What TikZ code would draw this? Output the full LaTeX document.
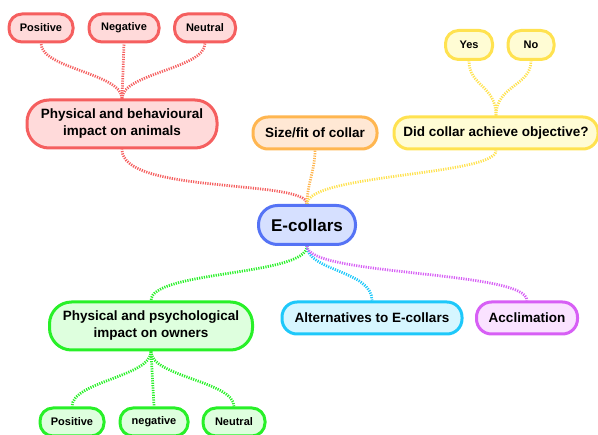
\documentclass[tikz,border=0pt]{standalone}
\usepackage{fontspec}
\setmainfont{Liberation Sans}
\usetikzlibrary{backgrounds}

\definecolor{redline}{RGB}{245,95,95}
\definecolor{redfill}{RGB}{255,218,218}
\definecolor{orangeline}{RGB}{255,182,80}
\definecolor{orangefill}{RGB}{255,232,212}
\definecolor{yellowline}{RGB}{255,226,80}
\definecolor{yellowfill}{RGB}{255,252,212}
\definecolor{blueline}{RGB}{85,115,245}
\definecolor{bluefill}{RGB}{214,224,255}
\definecolor{greenline}{RGB}{40,240,40}
\definecolor{greenfill}{RGB}{222,255,222}
\definecolor{cyanline}{RGB}{30,200,250}
\definecolor{cyanfill}{RGB}{214,246,255}
\definecolor{purpleline}{RGB}{215,95,245}
\definecolor{purplefill}{RGB}{250,226,255}

\tikzset{
	topic/.style={draw, line width=3pt, rounded corners=#1, inner sep=0pt, align=center, font=\bfseries},
	small/.style={topic=13pt, minimum height=28pt, font=\fontsize{11}{13}\selectfont\bfseries},
	medium/.style={topic=15pt, minimum height=32pt, font=\fontsize{13.5}{17}\selectfont\bfseries},
	twoline/.style={topic=22pt, minimum height=48pt, font=\fontsize{13.5}{17}\selectfont\bfseries},
	branch/.style={line width=2.75pt, dash pattern=on 1.2pt off 1.2pt}}
\tikzset{every picture/.style={line width=0.75pt}}

\begin{document}
\begin{tikzpicture}[x=1pt,y=1pt,yscale=-1,xscale=1]
	\useasboundingbox (0,0) rectangle (598,435);
	
	% Centre
	\node [topic=19pt, minimum width=97, minimum height=39, draw=blueline, fill=bluefill, font=\fontsize{17}{20}\selectfont\bfseries] (ecol) at (307,225) {E-collars};
	
	% Upper branches
	\node [twoline, minimum width=190, draw=redline, fill=redfill] (animals) at (122,124) {Physical and behavioural\\impact on animals};
	\node [small, minimum width=64, draw=redline, fill=redfill] (apos) at (41,28) {Positive};
	\node [small, minimum width=70, draw=redline, fill=redfill] (aneg) at (124,28) {Negative};
	\node [small, minimum width=61, draw=redline, fill=redfill] (aneu) at (205,28) {Neutral};
	\node [medium, minimum width=124, draw=orangeline, fill=orangefill] (size) at (315,133) {Size/fit of collar};
	\node [medium, minimum width=204, draw=yellowline, fill=yellowfill] (goal) at (496,133) {Did collar achieve objective?};
	\node [small, minimum width=47, minimum height=29, draw=yellowline, fill=yellowfill] (yes) at (469,45) {Yes};
	\node [small, minimum width=46, minimum height=29, draw=yellowline, fill=yellowfill] (no) at (531,45) {No};
	
	% Lower branches
	\node [twoline, minimum width=203, draw=greenline, fill=greenfill] (owners) at (151,326) {Physical and psychological\\impact on owners};
	\node [small, minimum width=64, draw=greenline, fill=greenfill] (opos) at (72,422) {Positive};
	\node [small, minimum width=68, draw=greenline, fill=greenfill] (oneg) at (154,422) {negative};
	\node [small, minimum width=62, draw=greenline, fill=greenfill] (oneu) at (234,422) {Neutral};
	\node [medium, minimum width=180, draw=cyanline, fill=cyanfill] (alt) at (372,318) {Alternatives to E-collars};
	\node [medium, minimum width=101, draw=purpleline, fill=purplefill] (accl) at (527,318) {Acclimation};
	
	% Connectors
	\begin{scope}[on background layer]
	\draw [branch, redline] (ecol.north) .. controls +(0,-25) and +(0,45) .. (animals.south);
	\draw [branch, orangeline] (ecol.north) .. controls +(0,-20) and +(0,20) .. (size.south);
	\draw [branch, yellowline] (ecol.north) .. controls +(0,-30) and +(0,25) .. (goal.south);
	\draw [branch, redline] (animals.north) .. controls +(0,-25) and +(0,25) .. (apos.south);
	\draw [branch, redline] (animals.north) -- (aneg.south);
	\draw [branch, redline] (animals.north) .. controls +(0,-25) and +(0,25) .. (aneu.south);
	\draw [branch, yellowline] (goal.north) .. controls +(0,-30) and +(0,25) .. (yes.south);
	\draw [branch, yellowline] (goal.north) .. controls +(0,-30) and +(0,25) .. (no.south);
	\draw [branch, greenline] (ecol.south) .. controls +(0,30) and +(0,-30) .. (owners.north);
	\draw [branch, cyanline] (ecol.south) .. controls +(0,25) and +(0,-30) .. (alt.north);
	\draw [branch, purpleline] (ecol.south) .. controls +(0,30) and +(0,-30) .. (accl.north);
	\draw [branch, greenline] (owners.south) .. controls +(0,25) and +(0,-25) .. (opos.north);
	\draw [branch, greenline] (owners.south) -- (oneg.north);
	\draw [branch, greenline] (owners.south) .. controls +(0,25) and +(0,-25) .. (oneu.north);
	\end{scope}
	
\end{tikzpicture}
\end{document}
